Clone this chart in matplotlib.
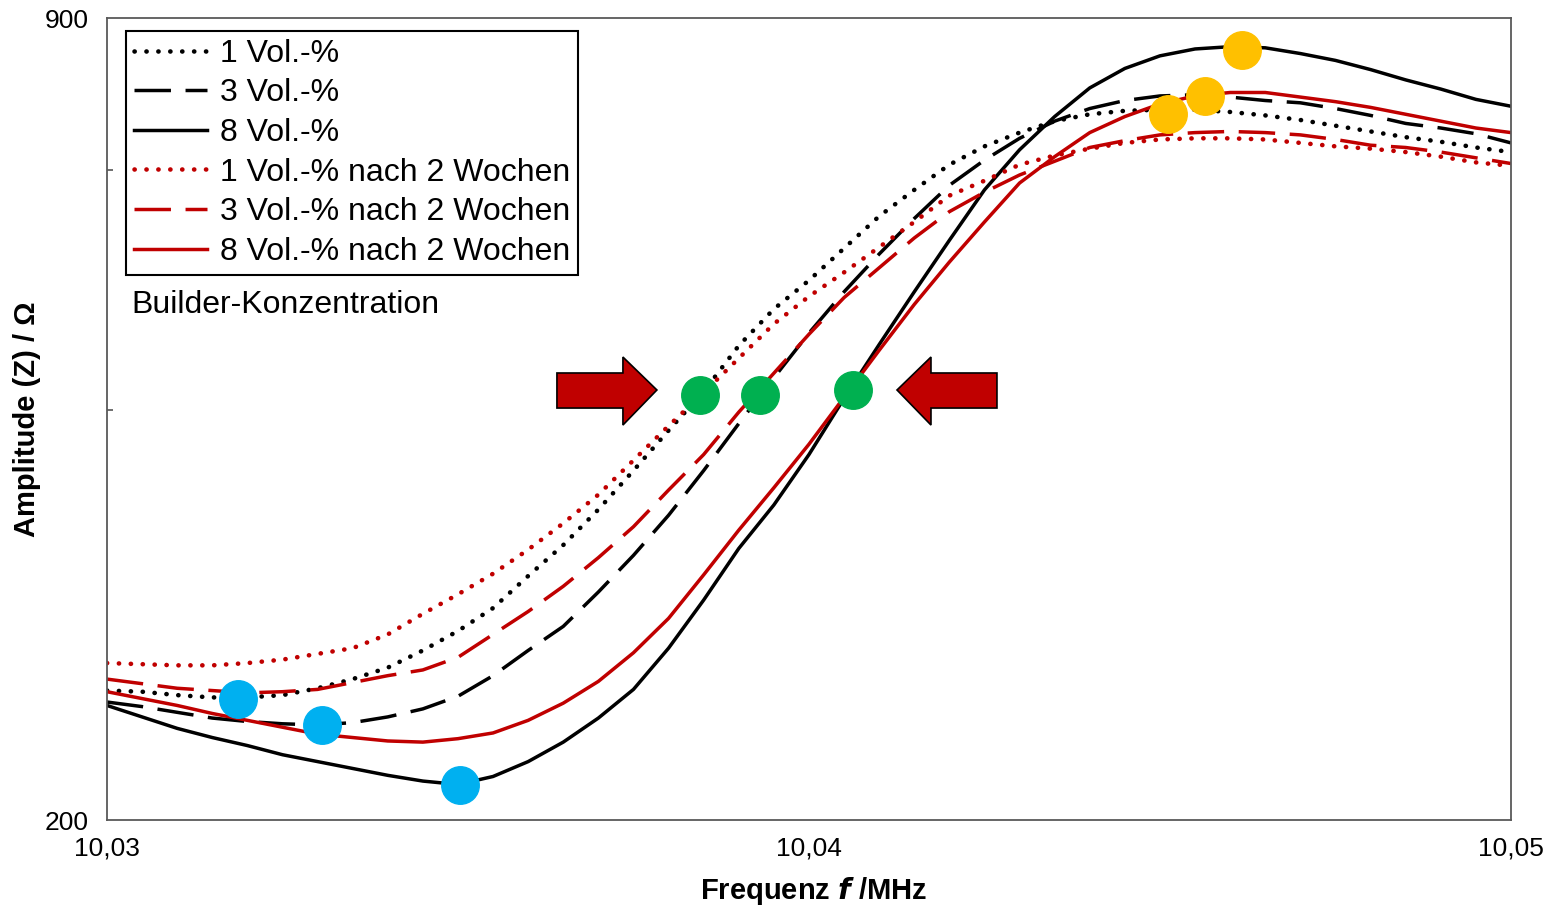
"""Impedance amplitude vs frequency for builder concentrations (fresh and after 2 weeks)."""

import matplotlib
matplotlib.use("Agg")
import matplotlib.pyplot as plt
from matplotlib.patches import Polygon

plt.rcParams.update({
    "font.family": ["Liberation Sans", "DejaVu Sans"],
    "font.size": 19,
})

# frequency grid in MHz (0.5 kHz steps)
freq = [10.0300, 10.0305, 10.0310, 10.0315, 10.0320, 10.0325, 10.0330, 10.0335,
        10.0340, 10.0345, 10.0350, 10.0355, 10.0360, 10.0365, 10.0370, 10.0375,
        10.0380, 10.0385, 10.0390, 10.0395, 10.0400, 10.0405, 10.0410, 10.0415,
        10.0420, 10.0425, 10.0430, 10.0435, 10.0440, 10.0445, 10.0450, 10.0455,
        10.0460, 10.0465, 10.0470, 10.0475, 10.0480, 10.0485, 10.0490, 10.0495,
        10.0500]

# amplitude in Ohm
amp_1 = [313, 312, 309, 307, 307, 309, 315, 323, 333, 348, 365, 385, 413, 440,
         471, 505, 540, 574, 614, 646, 671, 699, 727, 750, 772, 788, 800, 810,
         816, 819, 820, 820, 818, 815, 811, 806, 801, 796, 792, 787, 783]
amp_3 = [303, 299, 294, 289, 286, 284, 283, 285, 290, 297, 308, 326, 348, 369,
         399, 431, 466, 505, 546, 586, 625, 661, 694, 725, 754, 776, 795, 810,
         821, 828, 832, 833, 831, 828, 826, 821, 815, 808, 804, 799, 791]
amp_8 = [300, 290, 280, 272, 265, 257, 251, 245, 239, 234, 231, 238, 251, 268,
         289, 314, 350, 392, 437, 475, 519, 568, 615, 661, 706, 750, 785, 814,
         839, 856, 867, 873, 875, 874, 869, 863, 855, 846, 838, 829, 823]
amp_1_2w = [337, 336, 335, 335, 337, 340, 345, 350, 362, 380, 397, 415, 436, 459,
            484, 514, 544, 573, 603, 633, 657, 678, 700, 722, 745, 758, 772, 780,
            786, 791, 794, 795, 795, 794, 791, 788, 786, 783, 779, 774, 771]
amp_3_2w = [323, 319, 315, 313, 311, 312, 314, 320, 326, 331, 342, 362, 382, 404,
            429, 456, 488, 519, 556, 590, 624, 656, 682, 708, 731, 748, 763, 775,
            787, 793, 798, 800, 801, 800, 798, 794, 789, 787, 783, 778, 773]
amp_8_2w = [312, 306, 300, 293, 287, 281, 275, 272, 269, 268, 271, 276, 287, 302,
            321, 346, 376, 414, 453, 490, 528, 569, 610, 650, 687, 722, 756, 779,
            800, 814, 825, 832, 835, 835, 831, 827, 822, 816, 810, 804, 800]

labels = ["1 Vol.-%", "3 Vol.-%", "8 Vol.-%",
          "1 Vol.-% nach 2 Wochen", "3 Vol.-% nach 2 Wochen", "8 Vol.-% nach 2 Wochen"]

# highlighted points: minima (blue), half-rise (green), maxima (orange)
min_f = [10.03187, 10.03306, 10.03503]
min_a = [306, 283, 231]
mid_f = [10.03845, 10.03930, 10.04063]
mid_a = [571, 571, 575]
max_f = [10.04511, 10.04564, 10.04617]
max_a = [816, 832, 872]

BLACK = "#000000"
RED = "#C00000"

fig = plt.figure(figsize=(15.59, 9.06), dpi=100)
ax = fig.add_axes([0.0686, 0.0949, 0.9006, 0.8852])

lw = 2.5
dot = dict(lw=3.3, dashes=(0.05, 2.55), dash_capstyle="round")
dash = dict(lw=lw, dashes=(10.5, 4.2), dash_capstyle="butt")
solid = dict(lw=lw)

ax.plot(freq, amp_1, color=BLACK, label=labels[0], **dot)
ax.plot(freq, amp_3, color=BLACK, label=labels[1], **dash)
ax.plot(freq, amp_8, color=BLACK, label=labels[2], **solid)
ax.plot(freq, amp_1_2w, color=RED, label=labels[3], **dot)
ax.plot(freq, amp_3_2w, color=RED, label=labels[4], **dash)
ax.plot(freq, amp_8_2w, color=RED, label=labels[5], **solid)

ax.plot(min_f, min_a, "o", ms=27, color="#00B0F0", zorder=5)
ax.plot(mid_f, mid_a, "o", ms=27, color="#00B050", zorder=5)
ax.plot(max_f, max_a, "o", ms=27, color="#FFC000", zorder=5)

# block arrows pointing at the green points
left_arrow = [(0.3205, 0.5137), (0.3675, 0.5137), (0.3675, 0.4925), (0.3917, 0.5362),
              (0.3675, 0.5773), (0.3675, 0.5574), (0.3205, 0.5574)]
right_arrow = [(0.6339, 0.5137), (0.5869, 0.5137), (0.5869, 0.4925), (0.5627, 0.5362),
               (0.5869, 0.5773), (0.5869, 0.5574), (0.6339, 0.5574)]
for pts in (left_arrow, right_arrow):
    ax.add_patch(Polygon(pts, closed=True, transform=ax.transAxes,
                         facecolor=RED, edgecolor=BLACK, lw=1.2, zorder=6))

ax.set_xlim(10.03, 10.05)
ax.set_ylim(200, 900)
ax.set_xticks([10.03, 10.04, 10.05])
ax.set_xticklabels(["10,03", "10,04", "10,05"])
ax.set_yticks([200, 900])
ax.set_yticks([558, 767], minor=True)
ax.tick_params(axis="x", length=0, pad=12, labelsize=19)
ax.tick_params(axis="y", which="major", length=0, pad=13, labelsize=19)
ax.tick_params(axis="y", which="minor", direction="in", length=4.5, width=1.2,
               color="#555555")

for sp in ax.spines.values():
    sp.set_color("#595959")
    sp.set_linewidth(1.3)

ax.set_xlabel(r"Frequenz $\boldsymbol{f}$ /MHz", fontsize=21, fontweight="bold")
ax.set_ylabel("Amplitude (Z) / Ω", fontsize=21, fontweight="bold")
ax.xaxis.set_label_coords(0.503, -0.068)
ax.yaxis.set_label_coords(-0.047, 0.5)

leg = ax.legend(loc="upper left", bbox_to_anchor=(0.0135, 0.984), borderaxespad=0,
                fontsize=23, handlelength=2.3, handletextpad=0.4,
                labelspacing=0.3, borderpad=0.25, fancybox=False, framealpha=1)
leg.get_frame().set_edgecolor(BLACK)
leg.get_frame().set_linewidth(1.5)

ax.text(0.0171, 0.642, "Builder-Konzentration", transform=ax.transAxes,
        fontsize=23, va="center", ha="left")

fig.savefig("out.png", dpi=100)
